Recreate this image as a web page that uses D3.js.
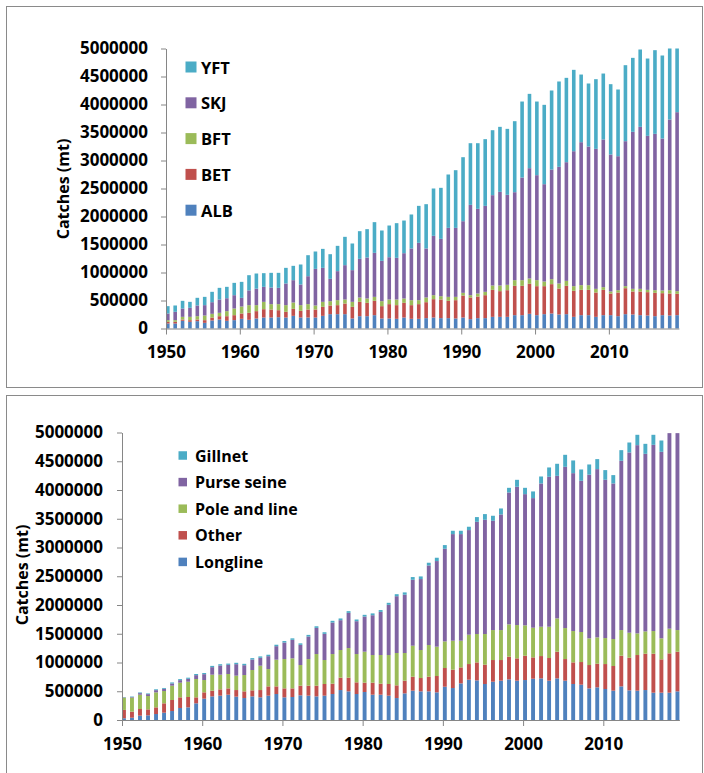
<!DOCTYPE html>
<html><head><meta charset="utf-8">
<script src="https://cdn.jsdelivr.net/npm/d3@7"></script>
<style>
body{margin:0;background:#fff;}
svg{display:block;}
text{font-family:"Open Sans",sans-serif;font-weight:700;fill:#000;}
</style></head><body>
<svg id="c" width="704" height="773"></svg>
<script>
// Categories
const years = [1950,1951,1952,1953,1954,1955,1956,1957,1958,1959,
  1960,1961,1962,1963,1964,1965,1966,1967,1968,1969,
  1970,1971,1972,1973,1974,1975,1976,1977,1978,1979,
  1980,1981,1982,1983,1984,1985,1986,1987,1988,1989,
  1990,1991,1992,1993,1994,1995,1996,1997,1998,1999,
  2000,2001,2002,2003,2004,2005,2006,2007,2008,2009,
  2010,2011,2012,2013,2014,2015,2016,2017,2018,2019];

// Top chart: catches by species (thousand mt)
const ALB = [89,89,137,119,131,101,143,161,137,149, 173,155,179,196,196,202,196,226,196,196,
  196,226,256,256,256,179,220,220,238,179, 179,173,196,173,173,185,196,185,185,179,
  196,167,185,185,208,208,208,238,238,262, 238,256,268,250,256,208,238,238,208,238,
  238,220,256,250,238,232,220,238,232,238];
const BET = [30,30,24,30,30,48,53,59,83,89, 95,125,131,149,143,125,102,125,119,143,
  143,161,155,161,190,208,256,238,256,220, 256,244,262,244,262,285,328,333,309,327,
  393,387,386,410,482,459,476,524,524,536, 518,500,524,464,506,465,452,452,435,452,
  387,423,464,411,423,417,417,393,393,381];
const BFT = [30,30,47,59,59,83,66,60,90,119, 125,137,107,131,96,108,119,113,102,96,
  72,89,77,89,72,89,77,78,71,89, 83,101,78,89,71,84,71,59,71,59,
  48,41,54,60,78,101,96,101,101,95, 107,83,89,90,89,83,84,84,65,48,
  36,41,36,47,47,41,47,48,59,48];
const SKJ = [119,149,149,161,191,185,208,238,231,238, 154,264,294,268,297,291,387,399,369,499,
  654,607,399,518,613,566,691,732,786,720, 755,744,809,923,1024,875,1060,1024,1232,1232,
  1279,1613,1512,1535,1613,1672,1607,1571,1833,1970, 1875,1738,1958,2083,2119,2410,2553,2476,2500,2637,
  2446,2393,2589,2804,2893,2750,2792,2714,3048,3196];
const YFT = [131,113,137,107,137,148,185,208,203,220, 286,271,271,244,262,268,279,256,357,375,
  310,339,440,452,506,476,494,506,548,542, 566,619,583,607,660,791,845,911,953,1030,
  1143,1101,1172,1191,1160,1161,1178,1268,1357,1327, 1315,1417,1411,1524,1506,1453,1208,1125,1244,1178,
  1256,1191,1357,1321,1381,1381,1494,1482,1268,1137];

// Bottom chart: catches by gear (thousand mt)
const Longline = [30,40,75,81,104,127,156,209,220,290, 371,411,423,440,406,382,411,394,423,452,
  394,400,429,423,411,423,452,521,498,452, 487,440,440,423,382,463,510,498,498,481,
  579,556,637,701,689,626,666,684,707,684, 695,718,724,684,724,684,626,614,550,568,
  539,510,585,516,510,521,475,475,475,498];
const Other = [145,105,116,104,116,163,192,185,180,104, 110,99,110,110,115,116,105,127,162,133,
  156,150,168,174,186,203,180,215,238,203, 162,209,192,203,221,221,243,232,255,284,
  325,319,278,272,313,336,377,359,394,388, 423,371,388,394,464,376,376,394,406,411,
  434,429,533,567,620,632,678,580,684,690];
const PoleLine = [215,245,249,232,261,214,249,255,266,319, 214,278,255,250,250,284,353,423,301,464,
  510,522,359,463,550,417,515,481,515,492, 539,481,498,504,562,481,539,487,551,510,
  463,504,464,510,493,533,521,521,562,579, 528,516,510,544,579,539,545,522,464,458,
  452,469,446,435,376,388,394,365,429,376];
const PurseSeine = [5,10,27,33,38,38,38,44,50,67, 102,131,160,159,200,171,183,137,224,235,
  287,322,351,392,455,455,548,519,612,571, 611,692,750,873,988,1014,1147,1234,1384,1489,
  1611,1854,1854,1820,1952,1987,1901,2011,2294,2405, 2282,2254,2492,2608,2479,2804,2746,2630,2847,2926,
  2753,2706,2944,3135,3274,3088,3239,3244,3401,3425];
const Gillnet = [5,8,12,12,15,15,18,18,20,20, 20,22,22,22,24,24,24,25,25,25,
  26,26,26,28,28,28,30,30,30,30, 30,32,32,35,35,40,47,46,47,58,
  64,58,58,58,82,99,87,104,81,121, 110,116,121,162,210,209,221,197,177,174,
  168,145,185,173,180,174,174,197,0,0];

const speciesNames = ["ALB","BET","BFT","SKJ","YFT"];
const gearNames = ["Longline","Other","Pole and line","Purse seine","Gillnet"];
const seriesColors = ["#4F81BD","#C0504D","#9BBB59","#8064A2","#4BACC6"];
const yTicks = [0,500000,1000000,1500000,2000000,2500000,3000000,3500000,4000000,4500000,5000000];
const xTicks = [1950,1960,1970,1980,1990,2000,2010];
const yTitle = "Catches (mt)";
const UNIT = 1000;

const svg = d3.select("#c");
const axisColor = "#868686";

function buildTable(names, arrays){
  return years.map((yr,i)=>{
    const row = {year: yr};
    names.forEach((n,j)=>{ row[n] = arrays[j][i]*UNIT; });
    return row;
  });
}

function drawPanel(cfg){
  const g = svg.append("g");
  // panel frame
  g.append("rect").attr("x",cfg.frame[0]).attr("y",cfg.frame[1])
    .attr("width",cfg.frame[2]).attr("height",cfg.frame[3])
    .attr("fill","none").attr("stroke","#8a8a8a").attr("stroke-width",1);

  const table = buildTable(cfg.names, cfg.arrays);
  const stack = d3.stack().keys(cfg.names)(table);
  const x = d3.scaleLinear().domain([1950,2019]).range([cfg.x0, cfg.x1]);
  const y = d3.scaleLinear().domain([0,5000000]).range([cfg.y0, cfg.y1]);

  stack.forEach((layer,k)=>{
    g.append("g").selectAll("rect").data(layer).join("rect")
      .attr("x", d=>x(d.data.year))
      .attr("width", cfg.bw)
      .attr("y", d=>y(d[1]))
      .attr("height", d=>Math.max(0, y(d[0])-y(d[1])))
      .attr("fill", seriesColors[k]);
  });

  // y axis
  const ya = g.append("g").attr("transform",`translate(${cfg.x0},0)`)
    .call(d3.axisLeft(y).tickValues(yTicks).tickSize(5).tickSizeOuter(0)
      .tickPadding(cfg.yPad).tickFormat(d3.format("d")));
  ya.select(".domain").attr("stroke",axisColor);
  ya.selectAll(".tick line").attr("stroke",axisColor);
  ya.selectAll("text").style("font-size","17px").style("font-family","Open Sans").style("font-weight","700");

  // x axis
  const xa = g.append("g").attr("transform",`translate(0,${cfg.y0})`)
    .call(d3.axisBottom(x).tickValues(xTicks).tickSize(6).tickSizeOuter(0)
      .tickPadding(cfg.xPad).tickFormat(d3.format("d")));
  xa.select(".domain").remove();
  xa.append("line").attr("x1",cfg.x0).attr("x2",cfg.x1+cfg.bw+0.5)
    .attr("y1",0.5).attr("y2",0.5).attr("stroke",axisColor);
  xa.selectAll(".tick line").attr("stroke",axisColor);
  xa.selectAll("text").style("font-size","17px").style("font-family","Open Sans").style("font-weight","700");

  // y title
  g.append("text").attr("transform",`translate(${cfg.titleX},${cfg.titleY}) rotate(-90)`)
    .attr("text-anchor","middle").attr("dominant-baseline","central")
    .style("font-size","16px").text(yTitle);

  // legend (reverse order)
  const leg = cfg.names.map((n,k)=>({n,k})).reverse();
  leg.forEach((d,i)=>{
    const cy = cfg.legY + i*cfg.legStep;
    g.append("rect").attr("x",cfg.legX).attr("y",cy-cfg.legBox/2)
      .attr("width",cfg.legBox).attr("height",cfg.legBox).attr("fill",seriesColors[d.k]);
    g.append("text").attr("x",cfg.legTextX).attr("y",cy)
      .attr("dominant-baseline","central").style("font-size",cfg.legFont+"px").text(d.n);
  });
}

drawPanel({
  frame:[6.5,6.5,696,381], names:speciesNames, arrays:[ALB,BET,BFT,SKJ,YFT],
  x0:166, x1:675.3, y0:328.5, y1:48.5, bw:3.6, yPad:13, xPad:11,
  titleX:63, titleY:189,
  legX:185.5, legY:67, legStep:35.8, legBox:11, legTextX:201, legFont:16.5
});

drawPanel({
  frame:[6.5,395.5,696,390], names:gearNames, arrays:[Longline,Other,PoleLine,PurseSeine,Gillnet],
  x0:122, x1:675.5, y0:720, y1:432.5, bw:3.9, yPad:14, xPad:12,
  titleX:22, titleY:575,
  legX:178.5, legY:455.5, legStep:26.6, legBox:8.5, legTextX:195, legFont:16
});
</script>
</body></html>
